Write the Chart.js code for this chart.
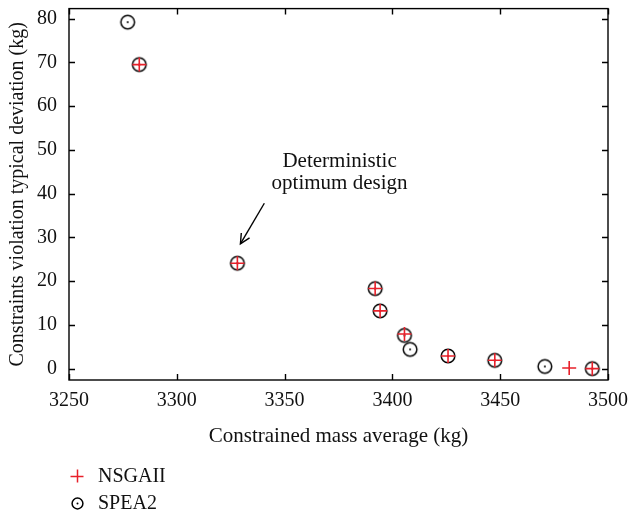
<!DOCTYPE html>
<html>
<head>
<meta charset="utf-8">
<script src="https://cdn.jsdelivr.net/npm/chart.js@4/dist/chart.umd.min.js"></script>
<style>
  html, body { margin: 0; padding: 0; background: #fff; }
  #wrap { width: 628px; height: 516px; position: relative; }
</style>
</head>
<body>
<div id="wrap"><canvas id="c" width="628" height="516"></canvas></div>
<script>
// ---- data ----
const nsgaiiMass = [3282.6, 3328.1, 3392.0, 3394.3, 3405.6, 3425.8, 3447.5, 3482.0, 3492.7];
const nsgaiiDev  = [69.5, 24.1, 18.3, 13.2, 7.9, 2.9, 1.9, 0.15, 0.0];
const spea2Mass  = [3277.2, 3282.6, 3328.1, 3392.0, 3394.3, 3405.6, 3408.2, 3425.8, 3447.5, 3470.7, 3492.7];
const spea2Dev   = [79.2, 69.5, 24.1, 18.3, 13.2, 7.6, 4.4, 2.9, 1.9, 0.5, 0.0];
const xTicks = [3250, 3300, 3350, 3400, 3450, 3500];
const yTicks = [0, 10, 20, 30, 40, 50, 60, 70, 80];
const seriesNames = ['NSGAII', 'SPEA2'];
const xTitle = 'Constrained mass average (kg)';
const yTitle = 'Constraints violation typical deviation (kg)';
const noteLines = ['Deterministic', 'optimum design'];
// annotation anchor (data coords): text centre, arrow tail, arrow tip
const noteText = { x: 3375.5, y: [47.3, 42.4] };
const arrowTail = { x: 3340.6, y: 37.8 };
const arrowTip  = { x: 3329.5, y: 28.5 };

const FONT = '"Liberation Serif", "Times New Roman", serif';

function makeCircleDot(r) {
  const s = Math.ceil(r * 2 + 4);
  const cv = document.createElement('canvas');
  cv.width = s; cv.height = s;
  const g = cv.getContext('2d');
  g.strokeStyle = '#000'; g.lineWidth = 1.5;
  g.beginPath(); g.arc(s / 2, s / 2, r, 0, Math.PI * 2); g.stroke();
  g.fillStyle = '#000';
  g.beginPath(); g.arc(s / 2, s / 2, 1.0, 0, Math.PI * 2); g.fill();
  return cv;
}
const bigCircle = makeCircleDot(6.8);
const smallCircle = makeCircleDot(5.4);

const framePlugin = {
  id: 'frame',
  afterDatasetsDraw(chart) {
    const { ctx, chartArea: a, scales } = chart;
    const xs = scales.x, ys = scales.y;
    ctx.save();
    ctx.strokeStyle = '#000';
    ctx.lineWidth = 1.4;
    ctx.strokeRect(a.left, a.top, a.right - a.left, a.bottom - a.top);
    const tl = 6;
    ctx.beginPath();
    xTicks.forEach(v => {
      const px = Math.round(xs.getPixelForValue(v)) + 0.5;
      ctx.moveTo(px, a.bottom); ctx.lineTo(px, a.bottom - tl);
      ctx.moveTo(px, a.top); ctx.lineTo(px, a.top + tl);
    });
    yTicks.forEach(v => {
      const py = Math.round(ys.getPixelForValue(v)) + 0.5;
      ctx.moveTo(a.left, py); ctx.lineTo(a.left + tl, py);
      ctx.moveTo(a.right, py); ctx.lineTo(a.right - tl, py);
    });
    ctx.stroke();

    // annotation
    ctx.fillStyle = '#111';
    ctx.font = '21px ' + FONT;
    ctx.textAlign = 'center';
    ctx.textBaseline = 'middle';
    noteLines.forEach((t, i) => {
      ctx.fillText(t, xs.getPixelForValue(noteText.x), ys.getPixelForValue(noteText.y[i]));
    });
    const x0 = xs.getPixelForValue(arrowTail.x), y0 = ys.getPixelForValue(arrowTail.y);
    const x1 = xs.getPixelForValue(arrowTip.x), y1 = ys.getPixelForValue(arrowTip.y);
    ctx.lineWidth = 1.4;
    ctx.beginPath(); ctx.moveTo(x0, y0); ctx.lineTo(x1, y1); ctx.stroke();
    const ang = Math.atan2(y1 - y0, x1 - x0);
    const hl = 11, ha = 0.45;
    ctx.beginPath();
    ctx.moveTo(x1 - hl * Math.cos(ang - ha), y1 - hl * Math.sin(ang - ha));
    ctx.lineTo(x1, y1);
    ctx.lineTo(x1 - hl * Math.cos(ang + ha), y1 - hl * Math.sin(ang + ha));
    ctx.stroke();

    // legend
    const lx = 77, ly1 = 476, ly2 = 503;
    ctx.strokeStyle = '#e8202a'; ctx.lineWidth = 1.5;
    ctx.beginPath();
    ctx.moveTo(lx - 6.5, ly1 + 0.5); ctx.lineTo(lx + 6.5, ly1 + 0.5);
    ctx.moveTo(lx + 0.5, ly1 - 6.5); ctx.lineTo(lx + 0.5, ly1 + 6.5);
    ctx.stroke();
    ctx.drawImage(smallCircle, lx - smallCircle.width / 2 + 0.5, ly2 - smallCircle.height / 2 + 0.5);
    ctx.fillStyle = '#111';
    ctx.font = '20px ' + FONT;
    ctx.textAlign = 'left';
    ctx.fillText(seriesNames[0], 98, ly1 + 1);
    ctx.fillText(seriesNames[1], 98, ly2 + 1);
    ctx.restore();
  }
};

new Chart(document.getElementById('c'), {
  type: 'scatter',
  data: {
    datasets: [
      {
        label: seriesNames[1],
        data: spea2Mass.map((m, i) => ({ x: m, y: spea2Dev[i] })),
        pointStyle: bigCircle,
        pointRadius: 7,
        order: 2
      },
      {
        label: seriesNames[0],
        data: nsgaiiMass.map((m, i) => ({ x: m, y: nsgaiiDev[i] })),
        pointStyle: 'cross',
        pointRadius: 7,
        borderColor: '#e8202a',
        backgroundColor: '#e8202a',
        pointBorderWidth: 1.6,
        order: 1
      }
    ]
  },
  options: {
    responsive: false,
    animation: false,
    events: [],
    layout: { padding: { left: 0, right: 20, top: 5, bottom: 64 } },
    plugins: { legend: { display: false }, tooltip: { enabled: false } },
    scales: {
      x: {
        type: 'linear', min: 3250, max: 3500,
        afterBuildTicks: s => { s.ticks = xTicks.map(v => ({ value: v })); },
        afterFit: s => { s.height = 72; s.paddingLeft = 0; s.paddingRight = 0; },
        grid: { display: false, drawTicks: false },
        border: { display: false },
        ticks: { color: '#111', font: { family: FONT, size: 20 }, padding: 9, maxRotation: 0,
                 callback: v => String(v) },
        title: { display: true, text: xTitle, color: '#111', font: { family: FONT, size: 21 }, padding: { top: 0, bottom: 3 } }
      },
      y: {
        type: 'linear', min: -2.6, max: 82.3,
        afterBuildTicks: s => { s.ticks = yTicks.map(v => ({ value: v })); },
        afterFit: s => { s.width = 69; s.paddingTop = 0; s.paddingBottom = 0; },
        grid: { display: false, drawTicks: false },
        border: { display: false },
        ticks: { color: '#111', font: { family: FONT, size: 20 }, padding: 12,
                 callback: v => String(v) },
        title: { display: true, text: yTitle, color: '#111', font: { family: FONT, size: 20 }, padding: { top: 6, bottom: 0 } }
      }
    }
  },
  plugins: [framePlugin]
});
</script>
</body>
</html>
